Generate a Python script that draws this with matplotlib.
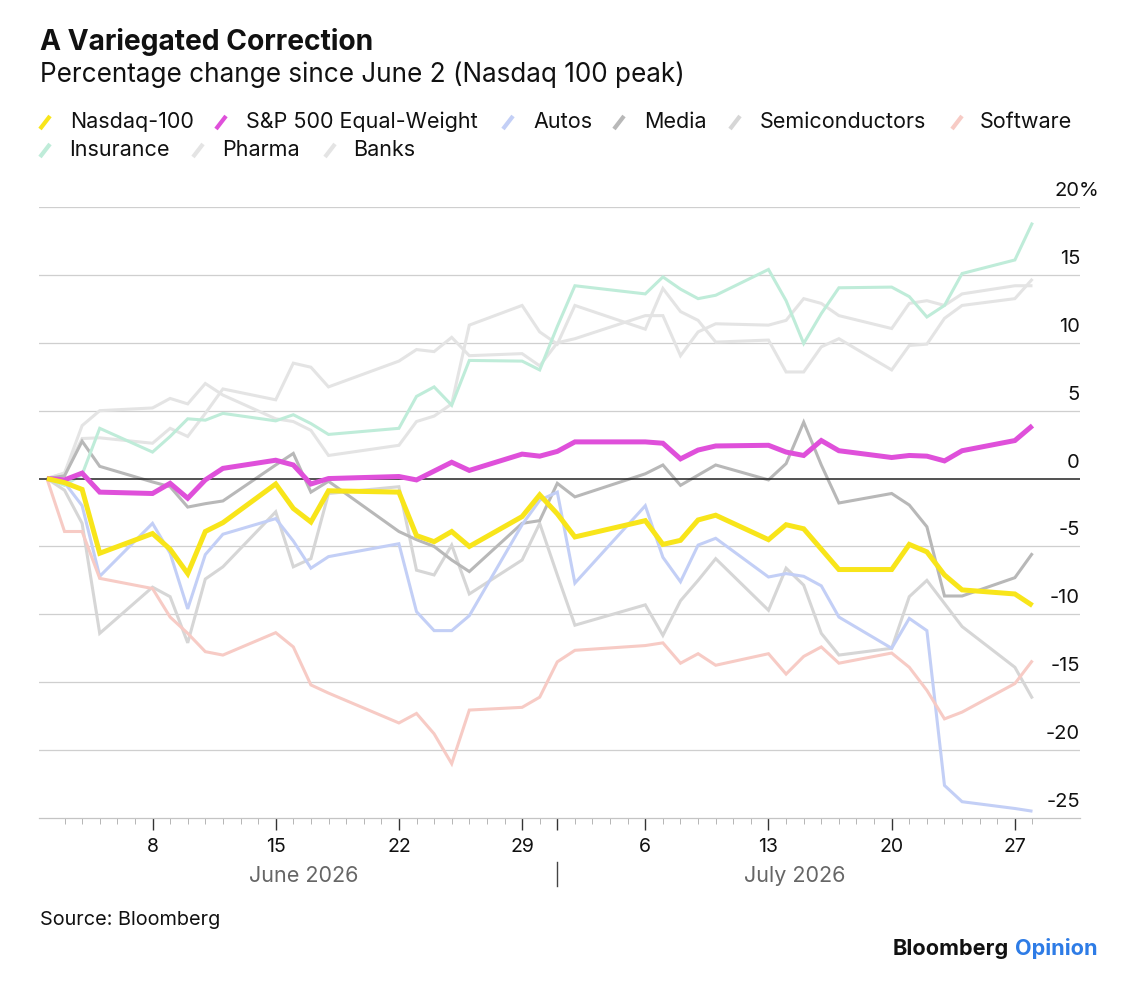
import datetime as dt
import matplotlib
matplotlib.use("Agg")
import matplotlib.pyplot as plt
import matplotlib.dates as mdates
import matplotlib.transforms as mtransforms
from matplotlib.lines import Line2D


# trading days (percentage change since June 2)
dates = ["2026-06-02", "2026-06-03", "2026-06-04", "2026-06-05",
         "2026-06-08", "2026-06-09", "2026-06-10", "2026-06-11", "2026-06-12",
         "2026-06-15", "2026-06-16", "2026-06-17", "2026-06-18",
         "2026-06-22", "2026-06-23", "2026-06-24", "2026-06-25", "2026-06-26",
         "2026-06-29", "2026-06-30", "2026-07-01", "2026-07-02",
         "2026-07-06", "2026-07-07", "2026-07-08", "2026-07-09", "2026-07-10",
         "2026-07-13", "2026-07-14", "2026-07-15", "2026-07-16", "2026-07-17",
         "2026-07-20", "2026-07-21", "2026-07-22", "2026-07-23", "2026-07-24",
         "2026-07-27", "2026-07-28"]

nasdaq = [0, -0.3, -0.8, -5.5, -4.05, -5.2, -7.0, -3.9, -3.25, -0.4, -2.2, -3.2, -0.9,
          -1.0, -4.2, -4.65, -3.9, -5.0, -2.8, -1.2, -2.6, -4.3, -3.1, -4.85, -4.55, -3.05, -2.7,
          -4.5, -3.4, -3.7, -5.2, -6.7, -6.7, -4.85, -5.4, -7.1, -8.2, -8.5, -9.35]
spx_ew = [0, -0.1, 0.4, -1.0, -1.1, -0.35, -1.45, -0.1, 0.75, 1.35, 1.0, -0.4, 0.0,
          0.15, -0.1, 0.55, 1.2, 0.6, 1.8, 1.65, 2.0, 2.7, 2.7, 2.6, 1.45, 2.1, 2.4,
          2.45, 1.95, 1.7, 2.8, 2.05, 1.55, 1.7, 1.65, 1.3, 2.05, 2.8, 3.9]
autos = [0, -0.3, -2.0, -7.2, -3.3, -5.5, -9.6, -5.6, -4.1, -2.95, -4.6, -6.6, -5.75,
         -4.8, -9.8, -11.2, -11.2, -10.1, -3.4, -1.6, -1.0, -7.7, -2.0, -5.8, -7.6, -4.9, -4.4,
         -7.25, -7.0, -7.2, -7.9, -10.2, -12.5, -10.3, -11.2, -22.6, -23.8, -24.3, -24.5]
media = [0, 0.2, 2.75, 0.9, -0.25, -0.6, -2.1, -1.85, -1.65, 1.0, 1.85, -1.0, -0.2,
         -3.9, -4.5, -5.0, -6.0, -6.85, -3.3, -3.1, -0.35, -1.35, 0.35, 1.0, -0.5, 0.25, 1.0,
         -0.1, 1.1, 4.15, 1.0, -1.8, -1.1, -1.95, -3.55, -8.65, -8.65, -7.3, -5.5]
semis = [0, -0.86, -3.3, -11.4, -8.0, -8.7, -12.1, -7.4, -6.5, -2.45, -6.5, -5.9, -1.1,
         -0.6, -6.75, -7.1, -4.9, -8.5, -6.0, -3.3, -7.1, -10.8, -9.3, -11.55, -9.0, -7.5, -5.9,
         -9.7, -6.6, -7.85, -11.4, -13.0, -12.5, -8.7, -7.5, -9.2, -10.9, -13.9, -16.2]
software = [0, -3.9, -3.9, -7.35, -8.1, -10.2, -11.4, -12.75, -13.0, -11.35, -12.4, -15.2, -15.8,
            -18.0, -17.3, -18.8, -21.0, -17.05, -16.85, -16.1, -13.5, -12.65, -12.3, -12.1, -13.6, -12.9, -13.75,
            -12.9, -14.4, -13.1, -12.4, -13.6, -12.85, -13.9, -15.6, -17.7, -17.2, -15.1, -13.4]
insurance = [0, -0.5, 0.3, 3.7, 1.95, 3.1, 4.4, 4.3, 4.8, 4.25, 4.7, 4.05, 3.25,
             3.7, 6.05, 6.75, 5.4, 8.7, 8.65, 8.0, 11.2, 14.2, 13.6, 14.85, 13.95, 13.25, 13.5,
             15.4, 13.1, 9.95, 12.15, 14.05, 14.1, 13.4, 11.9, 12.75, 15.1, 16.1, 18.85]
pharma = [0, 0.4, 3.9, 5.0, 5.2, 5.9, 5.5, 7.0, 6.15, 4.4, 4.2, 3.55, 1.7,
          2.45, 4.2, 4.6, 5.5, 11.3, 12.75, 10.8, 9.9, 12.75, 11.0, 14.0, 12.3, 11.65, 10.05,
          10.2, 7.85, 7.85, 9.7, 10.3, 8.0, 9.8, 9.9, 11.8, 12.75, 13.25, 14.7]
banks = [0, 0.4, 2.95, 3.0, 2.6, 3.7, 3.1, 4.8, 6.6, 5.8, 8.5, 8.2, 6.75,
         8.65, 9.5, 9.35, 10.4, 9.05, 9.2, 8.3, 10.0, 10.3, 12.0, 12.0, 9.05, 10.8, 11.4,
         11.3, 11.65, 13.25, 12.9, 12.0, 11.05, 12.9, 13.1, 12.75, 13.6, 14.2, 14.2]

y_ticks = [-25, -20, -15, -10, -5, 0, 5, 10, 15, 20]


def main():

    plt.rcParams['font.family'] = ['Inter', 'DejaVu Sans']

    W, H = 1138, 982
    fig = plt.figure(figsize=(W / 100, H / 100), dpi=100)
    fig.patch.set_facecolor("white")

    def fx(x):
        return x / W

    def fy(y):
        return 1 - y / H

    ax = fig.add_axes([fx(39), fy(818), fx(1080) - fx(39), fy(207) - fy(818)])

    x = [mdates.date2num(dt.datetime.strptime(d, "%Y-%m-%d")) for d in dates]
    d0 = x[0]

    # series: (label, values, color, width, zorder)
    series = [
        ("Pharma", pharma, "#e4e4e4", 2.2, 2),
        ("Banks", banks, "#e4e4e4", 2.2, 2),
        ("Semiconductors", semis, "#d6d6d6", 2.2, 3),
        ("Media", media, "#b8b8b8", 2.2, 4),
        ("Autos", autos, "#c3cff6", 2.2, 4),
        ("Software", software, "#f7cbc5", 2.2, 4),
        ("Insurance", insurance, "#bfecd9", 2.2, 4),
        ("S&P 500 Equal-Weight", spx_ew, "#df50da", 3.6, 7),
        ("Nasdaq-100", nasdaq, "#f8e51a", 3.6, 8),
    ]
    for label, vals, color, lw, z in series:
        ax.plot(x, vals, color=color, linewidth=lw, zorder=z,
                solid_joinstyle="miter", solid_capstyle="butt")

    # limits
    ax.set_xlim(d0 - 0.45, d0 + 58.7)
    ax.set_ylim(-25, 20)

    # grid lines
    for v in y_ticks:
        if v == 0:
            ax.axhline(v, color="#222222", linewidth=1.1, zorder=5)
        elif v > -25:
            ax.axhline(v, color="#cfcfcf", linewidth=0.9, zorder=1)

    for s in ["top", "left", "right"]:
        ax.spines[s].set_visible(False)
    ax.spines["bottom"].set_color("#c4c4c4")
    ax.spines["bottom"].set_linewidth(0.9)
    ax.set_yticks([])

    # x ticks: daily minor, Mondays major (+ month break)
    minor = [d0 + i for i in range(1, 57)]
    mondays = [d0 + i for i in range(6, 57, 7)]
    jul1 = mdates.date2num(dt.datetime(2026, 7, 1))
    ax.set_xticks(mondays + [jul1])
    ax.set_xticklabels([str(mdates.num2date(m).day) for m in mondays] + [""])
    ax.set_xticks(minor, minor=True)
    ax.tick_params(axis="x", which="major", length=8.5, width=1.0, color="#333333",
                   labelsize=14, labelcolor="#111111", pad=6)
    ax.tick_params(axis="x", which="minor", length=4, width=0.7, color="#b5b5b5")

    # month labels
    trans = mtransforms.blended_transform_factory(ax.transData, fig.transFigure)
    ax.text((d0 - 0.45 + jul1) / 2 + 0.3, fy(882), "June 2026", transform=trans,
            ha="center", va="baseline", fontsize=15.5, color="#666666")
    ax.text((jul1 + x[-1]) / 2, fy(882), "July 2026", transform=trans,
            ha="center", va="baseline", fontsize=15.5, color="#666666")
    ax.add_line(Line2D([jul1, jul1], [fy(862), fy(886)], transform=trans,
                       color="#444444", linewidth=1.0, clip_on=False))

    # y labels on the right, above each grid line
    ytrans = mtransforms.blended_transform_factory(ax.transAxes, ax.transData)
    ytrans = ytrans + mtransforms.ScaledTranslation(0, 11 / 100, fig.dpi_scale_trans)
    for v in y_ticks:
        ax.text(1.0, v, str(v), transform=ytrans, ha="right", va="baseline",
                fontsize=14.5, color="#111111")
    pct = ytrans + mtransforms.ScaledTranslation(-1.5 / 100, 0, fig.dpi_scale_trans)
    ax.text(1.0, 20, "%", transform=pct, ha="left", va="baseline",
            fontsize=14.5, color="#111111")

    # titles
    fig.text(fx(40), fy(50), "A Variegated Correction", fontsize=20.3,
             fontweight="bold", color="#111111", va="baseline")
    fig.text(fx(40), fy(82), "Percentage change since June 2 (Nasdaq 100 peak)",
             fontsize=18.8, color="#111111", va="baseline")

    # legend
    legend_items = [
        ("Nasdaq-100", "#f8e51a", 40, 70, 128),
        ("S&P 500 Equal-Weight", "#df50da", 216, 246, 128),
        ("Autos", "#c3cff6", 503, 533, 128),
        ("Media", "#b8b8b8", 614, 644, 128),
        ("Semiconductors", "#d6d6d6", 730, 760, 128),
        ("Software", "#f7cbc5", 952, 980, 128),
        ("Insurance", "#bfecd9", 40, 69, 156),
        ("Pharma", "#e4e4e4", 193, 222, 156),
        ("Banks", "#e4e4e4", 325, 353, 156),
    ]
    for label, color, sx, tx, by in legend_items:
        fig.add_artist(Line2D([fx(sx), fx(sx + 10)], [fy(by + 1), fy(by - 12)],
                              color=color, linewidth=3.0, solid_capstyle="butt"))
        fig.text(fx(tx), fy(by), label, fontsize=15.5, color="#111111", va="baseline")

    # footer
    fig.text(fx(40), fy(925), "Source: Bloomberg", fontsize=14.3, color="#111111",
             va="baseline")
    t_op = fig.text(fx(1098), fy(955), "Opinion", fontsize=15.6, fontweight="bold",
                    color="#2e7ce6", ha="right", va="baseline")
    renderer = fig.canvas.get_renderer()
    bb = t_op.get_window_extent(renderer)
    fig.text(fx(bb.x0 - 6), fy(955), "Bloomberg", fontsize=15.6, fontweight="bold",
             color="#111111", ha="right", va="baseline")

    fig.savefig("out.png", dpi=100, facecolor="white")


if __name__ == "__main__": main()
